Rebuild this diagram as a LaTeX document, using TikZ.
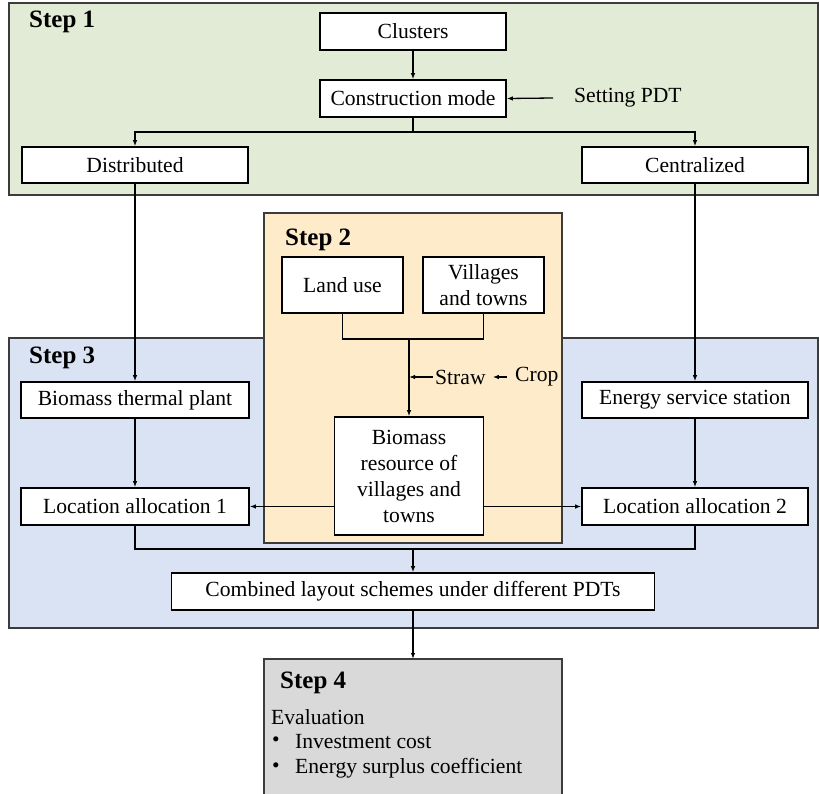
\documentclass[tikz,border=0pt]{standalone}
\usepackage{fontspec}
\setmainfont{Liberation Serif}
\usetikzlibrary{arrows.meta}
\definecolor{gA}{RGB}{226,235,214}
\definecolor{oB}{RGB}{253,235,202}
\definecolor{bC}{RGB}{218,227,243}
\definecolor{gD}{RGB}{217,217,217}
\definecolor{edge}{RGB}{60,60,60}
\tikzset{
  box/.style={draw=black, fill=white, line width=1.6pt, inner sep=0pt, align=center,
    font=\fontsize{21.6}{26}\selectfont},
  plain/.style={inner sep=0pt, font=\fontsize{21.6}{26}\selectfont},
  steplabel/.style={inner sep=0pt, anchor=west, font=\fontsize{25}{30}\selectfont\bfseries},
  stage/.style={draw=edge, line width=1.6pt, inner sep=0pt, outer sep=0pt, anchor=north west},
  conn/.style={line width=1.3pt, draw=black},
  arr/.style={conn, -{Latex[length=6pt,width=4.5pt]}}
}
\begin{document}
\begin{tikzpicture}[x=1pt,y=-1pt]
\useasboundingbox (0,0) rectangle (819,793);
\clip (0,0) rectangle (819,793);
% stage backgrounds
\node[stage, fill=gA, minimum width=809, minimum height=192] (s1) at (9,3) {};
\node[stage, fill=bC, minimum width=809, minimum height=290] (s3) at (9,338) {};
\node[stage, fill=oB, minimum width=298, minimum height=330] (s2) at (264,213) {};
\node[stage, fill=gD, minimum width=298, minimum height=150] (s4) at (264,659) {};
% step labels
\node[steplabel] (l1) at (29,22) {Step 1};
\node[steplabel] (l2) at (285,240) {Step 2};
\node[steplabel] (l3) at (29,358) {Step 3};
\node[steplabel] (l4) at (280,683) {Step 4};
% step 1
\node[box, minimum width=186, minimum height=37] (clusters) at (413,31.5) {Clusters};
\node[box, minimum width=186, minimum height=37] (cmode) at (413,98.5) {Construction mode};
\node[plain, anchor=west] (pdt) at (574,98) {Setting PDT};
\node[box, minimum width=226, minimum height=36] (dist) at (135,165) {Distributed};
\node[box, minimum width=226, minimum height=36] (cent) at (695,165) {Centralized};
% step 2
\node[box, minimum width=121, minimum height=56] (land) at (342.5,285) {Land use};
\node[box, minimum width=121, minimum height=56] (vill) at (483.5,285) {Villages\\and towns};
\node[box, minimum width=149, minimum height=118] (bio) at (409,476) {Biomass\\resource of\\villages and\\towns};
\node[plain, anchor=west] (straw) at (435,377) {Straw};
\node[plain, anchor=west] (crop) at (515,377) {Crop};
% step 3
\node[box, minimum width=228, minimum height=36] (btp) at (135,400) {Biomass thermal plant};
\node[box, minimum width=226, minimum height=36] (ess) at (695,400) {Energy service station};
\node[box, minimum width=228, minimum height=37] (la1) at (135,506.5) {Location allocation 1};
\node[box, minimum width=226, minimum height=37] (la2) at (695,506.5) {Location allocation 2};
\node[box, minimum width=483, minimum height=37] (comb) at (413,591.5) {Combined layout schemes under different PDTs};
% step 4 text
\node[plain, anchor=west] (eval) at (271,717) {Evaluation};
\node[plain, anchor=west] (b1) at (272,742) {•};
\node[plain, anchor=west] (i1) at (295,742) {Investment cost};
\node[plain, anchor=west] (b2) at (272,768) {•};
\node[plain, anchor=west] (i2) at (295,768) {Energy surplus coefficient};
% connectors step 1
\draw[arr] (clusters.south) -- (cmode.north);
\draw[arr] ([xshift=-21pt]pdt.west) -- (cmode.east);
\coordinate (br1) at (413,132);
\draw[conn] (cmode.south) -- (br1);
\draw[arr] (br1) -| (dist.north);
\draw[arr] (br1) -| (cent.north);
\draw[arr] (dist.south) -- (btp.north);
\draw[arr] (cent.south) -- (ess.north);
% step 2
\coordinate (m2) at (409,339);
\draw[conn] (land.south) |- (m2) -| (vill.south);
\draw[arr] (m2) -- (bio.north);
\coordinate (sj) at (409,377);
\draw[arr] ([xshift=-2pt]straw.west) -- (sj);
\draw[arr] ([xshift=-8pt]crop.west) -- ([xshift=7pt]straw.east);
% step 3
\draw[arr] (btp.south) -- (la1.north);
\draw[arr] (ess.south) -- (la2.north);
\draw[arr] (bio.west |- la1.east) -- (la1.east);
\draw[arr] (bio.east |- la2.west) -- (la2.west);
\coordinate (m3) at (413,549);
\draw[conn] (la1.south) |- (m3) -| (la2.south);
\draw[arr] (m3) -- (comb.north);
\draw[arr] (comb.south) -- (comb.south |- s4.north);
\end{tikzpicture}
\end{document}
